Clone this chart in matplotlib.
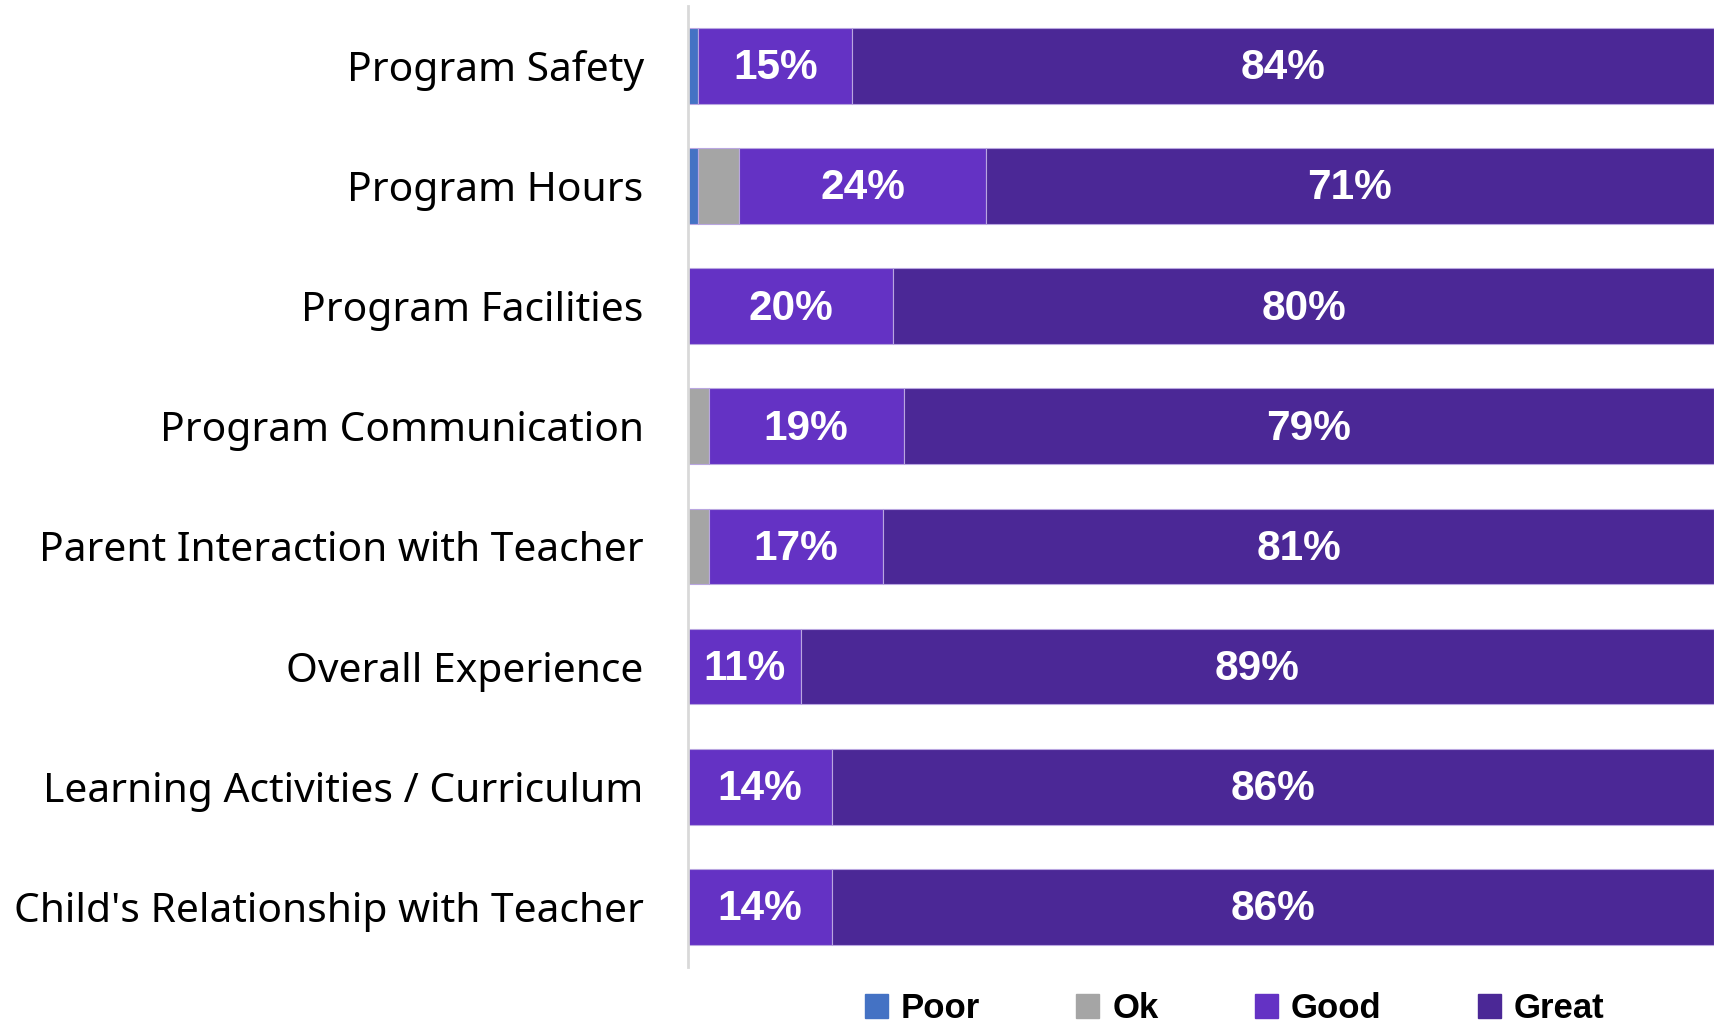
import matplotlib.pyplot as plt
from matplotlib.patches import Patch

categories = ["Program Safety", "Program Hours", "Program Facilities",
              "Program Communication", "Parent Interaction with Teacher",
              "Overall Experience", "Learning Activities / Curriculum",
              "Child's Relationship with Teacher"]
poor = [1, 1, 0, 0, 0, 0, 0, 0]
ok = [0, 4, 0, 2, 2, 0, 0, 0]
good = [15, 24, 20, 19, 17, 11, 14, 14]
great = [84, 71, 80, 79, 81, 89, 86, 86]

series = [("Poor", poor, "#4472C4"), ("Ok", ok, "#A5A5A5"),
          ("Good", good, "#6432C4"), ("Great", great, "#4B2896")]

fig = plt.figure(figsize=(17.14, 10.27), dpi=100)
ax = fig.add_axes([0.4015, 0.0584, 0.5985, 0.936])

y = list(range(len(categories)))
left = [0] * len(categories)
for name, vals, col in series:
    ax.barh(y, vals, left=left, height=0.63, color=col,
            edgecolor="#b9a6e0", linewidth=0.8)
    for i, v in enumerate(vals):
        if v >= 10:
            ax.text(left[i] + v / 2, i + 0.02, f"{v}%", ha="center", va="center",
                    color="white", fontsize=30.5, fontweight="bold",
                    family="Liberation Sans")
    left = [a + b for a, b in zip(left, vals)]

ax.set_xlim(0, 100)
ax.set_ylim(len(categories) - 0.5, -0.5)
ax.set_yticks(y)
ax.set_yticklabels(categories, fontsize=29.3, family="Noto Sans")
ax.tick_params(axis="y", length=0, pad=32)
ax.set_xticks([])
for s in ["top", "right", "bottom"]:
    ax.spines[s].set_visible(False)
ax.spines["left"].set_color("#d9d9d9")
ax.spines["left"].set_linewidth(2)

handles = [Patch(color=c, label=n) for n, _, c in series]
fig.legend(handles=handles, loc="center", bbox_to_anchor=(0.7204, 0.018),
           ncol=4, frameon=False, handlelength=0.66, handleheight=0.66,
           handletextpad=0.38, columnspacing=2.77, borderpad=0.1,
           prop={"family": "Liberation Sans", "weight": "bold", "size": 25})

fig.savefig("out.png", dpi=100)
